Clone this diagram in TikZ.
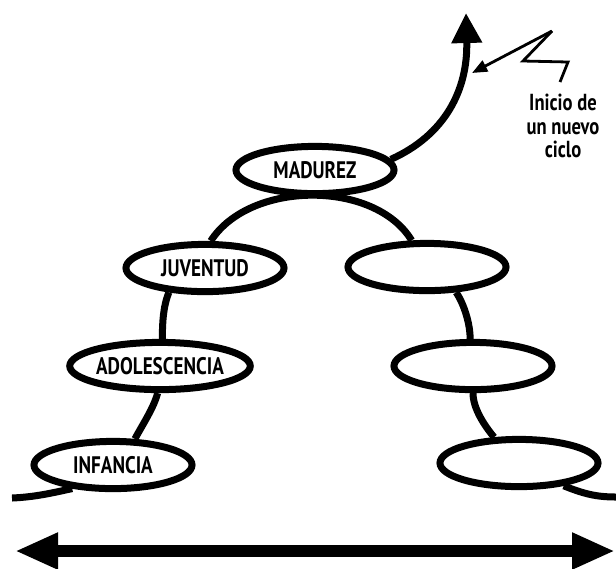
\documentclass[tikz,border=0pt]{standalone}
\usepackage{fontspec}
\setmainfont{PT Sans}
\newfontfamily\stagefont[FakeStretch=0.8]{PT Sans}
\newfontfamily\notefont[FakeStretch=0.8]{PT Sans}
\usetikzlibrary{shapes.geometric,arrows.meta}

\begin{document}
\begin{tikzpicture}[x=0.025cm, y=-0.025cm,
		stage/.style={ellipse, draw, line width=0.175cm, minimum width=3.95cm, minimum height=1.18cm, inner sep=0pt, font=\stagefont\bfseries\fontsize{17}{17}\selectfont},
		link/.style={line width=0.175cm},
		pointer/.style={line width=0.07cm},
		note/.style={font=\notefont\bfseries\fontsize{16.5}{16.5}\selectfont, align=center}]

	\useasboundingbox (0,0) rectangle (616,568);

	% ===== etapas =====
	\node[stage] (inf) at (113,465) {INFANCIA};
	\node[stage] (ado) at (160,366) {ADOLESCENCIA};
	\node[stage] (juv) at (205,268) {JUVENTUD};
	\node[stage] (mad) at (315,170) {MADUREZ};
	\node[stage] (rA) at (427,267) {};
	\node[stage] (rB) at (473,366) {};
	\node[stage] (rC) at (519,463) {};

	% ===== curva de la vida =====
	\coordinate (tailL) at (12,498);
	\coordinate (tailR) at (616,497);
	\draw[link] (tailL) .. controls (35,497) and (52,493) .. (inf.210);
	\draw[link] (inf.50) .. controls +(8,-15) and +(-4,15) .. (ado.265);
	\draw[link] (ado.85) .. controls +(0,-15) and +(-6,15) .. (juv.214);
	\draw[link] (juv.78) .. controls (250,180) and (375,180) .. (rA.120);
	\draw[link] (rA.319) .. controls +(8,12) and +(0,-15) .. (rB.96);
	\draw[link] (rB.270) .. controls +(0,15) and +(-10,-12) .. (rC.134);
	\draw[link] (rC.333) .. controls +(20,8) and +(-20,0) .. (tailR);

	% ===== nuevo ciclo =====
	\coordinate (upTip) at (466,13);
	\draw[link, -{Triangle[length=0.75cm, width=0.73cm]}] (mad.8) .. controls (445,135) and (468,90) .. (upTip);

	\coordinate (z1) at (552,31);
	\coordinate (z2) at (523,61);
	\coordinate (z3) at (568,62);
	\coordinate (z4) at (560,82);
	\coordinate (pTip) at (472,73);
	\draw[pointer, -{Triangle[length=0.38cm, width=0.3cm]}] (z1) -- (pTip);
	\draw[pointer] (z1) -- (z2) -- (z3) -- (z4);
	\node[note] (ciclo) at (563,126) {Inicio de\\un nuevo\\ciclo};

	% ===== flecha inferior =====
	\coordinate (baseL) at (15,551);
	\coordinate (baseR) at (615,551);
	\draw[line width=0.3cm, {Triangle[length=1.075cm, width=0.85cm]}-{Triangle[length=1.075cm, width=0.85cm]}] (baseL) -- (baseR);
\end{tikzpicture}
\end{document}
